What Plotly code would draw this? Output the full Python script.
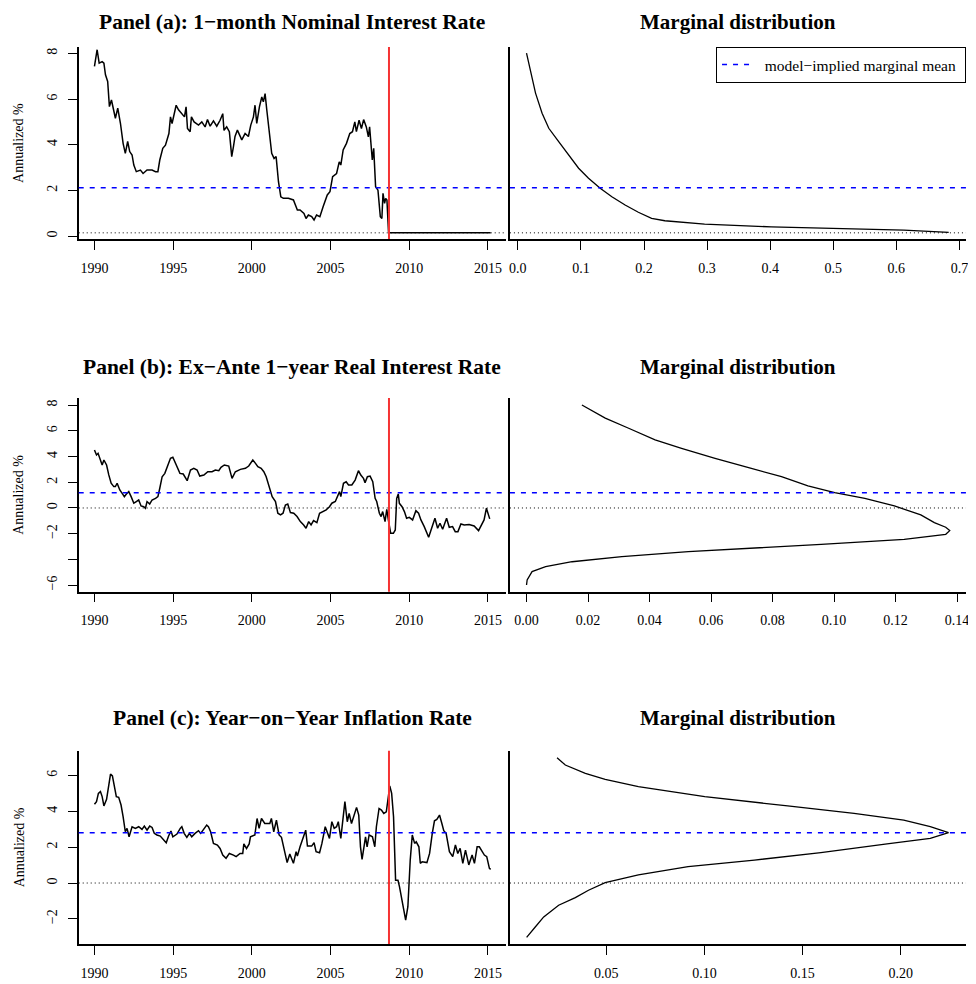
import plotly.graph_objects as go

# ---------------- data ----------------
# Panel (a): 1-month nominal interest rate
a_years = [1990.0, 1990.17, 1990.30, 1990.49, 1990.6, 1990.7, 1990.84, 1990.95, 1991.08, 1991.19,
           1991.33, 1991.48, 1991.65, 1991.82, 1991.96, 1992.11, 1992.24, 1992.39, 1992.5, 1992.66,
           1992.92, 1993.09, 1993.34, 1993.66, 1993.88, 1994.03, 1994.15, 1994.34, 1994.51, 1994.73,
           1994.83, 1994.93, 1995.04, 1995.19, 1995.34, 1995.55, 1995.72, 1995.82, 1995.91, 1996.08,
           1996.16, 1996.33, 1996.61, 1996.82, 1997.03, 1997.18, 1997.35, 1997.56, 1997.77, 1997.98,
           1998.15, 1998.23, 1998.4, 1998.57, 1998.72, 1998.83, 1998.93, 1999.08, 1999.21, 1999.36,
           1999.57, 1999.78, 1999.93, 2000.1, 2000.2, 2000.31, 2000.48, 2000.63, 2000.73, 2000.84,
           2000.95, 2001.12, 2001.26, 2001.41, 2001.54, 2001.69, 2001.84, 2002.0, 2002.32, 2002.64,
           2002.89, 2003.06, 2003.31, 2003.44, 2003.59, 2003.8, 2003.95, 2004.11, 2004.32, 2004.53,
           2004.79, 2004.96, 2005.13, 2005.38, 2005.55, 2005.65, 2005.8, 2006.01, 2006.22, 2006.39,
           2006.54, 2006.64, 2006.81, 2006.96, 2007.1, 2007.27, 2007.4, 2007.48, 2007.65, 2007.74,
           2007.86, 2008.01, 2008.16, 2008.26, 2008.33, 2008.43, 2008.5, 2008.58, 2008.68, 2008.75,
           2009.5, 2010.5, 2011.5, 2012.5, 2013.5, 2014.5, 2015.17]
a_vals = [7.43, 8.16, 7.57, 7.64, 7.57, 7.06, 6.77, 5.67, 5.96, 5.53,
          5.16, 5.60, 4.94, 4.06, 3.62, 4.14, 3.70, 3.55, 3.11, 2.82,
          2.89, 2.74, 2.89, 2.89, 2.82, 2.82, 3.33, 3.84, 3.98, 4.49,
          5.22, 4.93, 5.29, 5.73, 5.53, 5.37, 5.22, 5.66, 4.71, 4.57,
          5.22, 5.00, 4.86, 5.00, 4.78, 5.10, 4.81, 5.04, 4.81, 5.07,
          5.36, 4.63, 4.78, 4.57, 3.48, 3.92, 4.36, 4.64, 4.42, 4.21,
          4.49, 4.36, 4.86, 5.22, 5.73, 4.93, 5.66, 6.09, 5.88, 6.24,
          5.51, 4.49, 3.62, 3.40, 3.48, 2.38, 1.72, 1.65, 1.65, 1.58,
          1.14, 1.14, 0.99, 0.77, 0.92, 0.85, 0.70, 0.92, 0.85, 1.29,
          1.80, 1.94, 2.60, 2.74, 3.25, 3.11, 3.77, 4.06, 4.49, 4.57,
          5.00, 4.57, 5.07, 4.71, 5.10, 4.78, 4.34, 4.78, 3.33, 3.84,
          2.16, 2.01, 0.85, 0.77, 1.87, 1.43, 1.65, 1.58, 0.19, 0.14,
          0.14, 0.14, 0.14, 0.14, 0.14, 0.14, 0.14]
a_dens_x = [0.0137, 0.020, 0.028, 0.0384, 0.049, 0.0647, 0.0805, 0.0963, 0.112, 0.1305,
            0.149, 0.170, 0.191, 0.212, 0.233, 0.296, 0.4016, 0.507, 0.612, 0.683]
a_dens_y = [8.01, 7.21, 6.26, 5.38, 4.72, 4.14, 3.55, 2.97, 2.53, 2.09,
            1.72, 1.36, 1.04, 0.77, 0.67, 0.52, 0.40, 0.33, 0.26, 0.16]

# Panel (b): ex-ante 1-year real interest rate
b_years = [1990.0, 1990.13, 1990.23, 1990.38, 1990.49, 1990.6, 1990.77, 1990.91, 1991.06, 1991.23,
           1991.33, 1991.44, 1991.61, 1991.76, 1991.9, 1992.03, 1992.18, 1992.33, 1992.5, 1992.66,
           1992.81, 1992.96, 1993.13, 1993.24, 1993.34, 1993.51, 1993.66, 1993.88, 1994.03, 1994.15,
           1994.3, 1994.47, 1994.62, 1994.83, 1994.98, 1995.09, 1995.26, 1995.43, 1995.64, 1995.79,
           1995.89, 1996.1, 1996.31, 1996.52, 1996.69, 1996.95, 1997.2, 1997.47, 1997.68, 1997.9,
           1998.04, 1998.25, 1998.53, 1998.74, 1998.95, 1999.27, 1999.59, 1999.8, 1999.95, 2000.06,
           2000.23, 2000.38, 2000.59, 2000.76, 2000.91, 2001.08, 2001.29, 2001.5, 2001.65, 2001.82,
           2001.98, 2002.13, 2002.28, 2002.45, 2002.66, 2002.87, 2003.08, 2003.29, 2003.44, 2003.61,
           2003.76, 2003.92, 2004.13, 2004.3, 2004.51, 2004.72, 2004.93, 2005.08, 2005.3, 2005.44,
           2005.57, 2005.65, 2005.82, 2005.99, 2006.14, 2006.35, 2006.56, 2006.77, 2006.92, 2007.09,
           2007.19, 2007.34, 2007.51, 2007.68, 2007.83, 2007.93, 2008.1, 2008.21, 2008.31, 2008.46,
           2008.57, 2008.67, 2008.82, 2008.99, 2009.11, 2009.2, 2009.3, 2009.37, 2009.54, 2009.69,
           2009.83, 2010.0, 2010.21, 2010.42, 2010.59, 2010.74, 2010.95, 2011.23, 2011.44, 2011.63,
           2011.8, 2011.95, 2012.12, 2012.37, 2012.54, 2012.75, 2012.92, 2013.09, 2013.28, 2013.49,
           2013.8, 2014.12, 2014.4, 2014.61, 2014.75, 2014.9, 2015.03, 2015.11]
b_vals = [4.51, 4.12, 4.25, 3.73, 3.34, 3.73, 3.34, 2.57, 1.92, 1.66,
          1.66, 1.92, 1.40, 1.14, 0.88, 1.09, 1.27, 0.88, 0.37, 0.50,
          0.62, 0.16, 0.10, -0.02, 0.50, 0.31, 0.62, 0.75, 0.88, 1.53,
          2.43, 2.69, 3.21, 3.86, 3.94, 3.60, 3.08, 2.69, 2.64, 2.30,
          2.12, 2.95, 3.08, 2.95, 2.48, 2.56, 2.82, 2.82, 2.95, 2.90,
          3.16, 3.34, 3.26, 2.30, 2.82, 3.00, 3.08, 3.26, 3.60, 3.73,
          3.47, 3.21, 3.08, 2.82, 2.43, 1.66, 0.88, 0.50, -0.41, -0.54,
          -0.41, 0.23, 0.31, -0.36, -0.41, -0.67, -1.06, -1.32, -1.58, -1.06,
          -1.32, -0.98, -1.14, -0.41, -0.28, -0.15, 0.10, 0.37, 0.50, 0.88,
          1.27, 0.88, 1.92, 2.04, 1.79, 1.79, 2.17, 2.90, 2.56, 2.30,
          1.97, 2.43, 2.48, 2.04, 0.75, 0.50, -0.41, -0.67, -0.28, -1.06,
          -0.10, -0.93, -1.97, -1.97, -1.71, 0.75, 1.09, 0.36, 0.10, -0.28,
          -0.80, -0.73, -0.93, -0.21, -0.41, -0.93, -1.45, -2.28, -1.50, -0.80,
          -1.58, -1.19, -1.66, -0.80, -1.50, -1.45, -1.84, -1.84, -1.24, -1.32,
          -1.29, -1.40, -1.76, -1.32, -0.93, -0.02, -0.54, -0.85]
b_dens_x = [0.0180, 0.0256, 0.0332, 0.0418, 0.0504, 0.0613, 0.0731, 0.0829, 0.0915, 0.1002,
            0.110, 0.1196, 0.1282, 0.1326, 0.1363, 0.1376, 0.1363, 0.1228, 0.0958, 0.0742,
            0.0526, 0.031, 0.0148, 0.0062, 0.0018, 0.0002, 0.0]
b_dens_y = [8.01, 6.98, 6.20, 5.29, 4.64, 3.86, 3.08, 2.43, 1.71, 1.19,
            0.75, 0.16, -0.54, -1.14, -1.50, -1.76, -2.05, -2.44, -2.83, -3.09,
            -3.40, -3.79, -4.18, -4.56, -4.95, -5.60, -5.99]

# Panel (c): year-on-year inflation rate
c_years = [1990.0, 1990.13, 1990.25, 1990.38, 1990.49, 1990.6, 1990.77, 1990.91, 1991.02, 1991.14,
           1991.27, 1991.39, 1991.54, 1991.69, 1991.82, 1991.96, 1992.07, 1992.2, 1992.39, 1992.6,
           1992.81, 1993.02, 1993.17, 1993.34, 1993.51, 1993.66, 1993.8, 1993.97, 1994.18, 1994.39,
           1994.56, 1994.71, 1994.86, 1994.98, 1995.24, 1995.45, 1995.55, 1995.7, 1995.87, 1996.03,
           1996.18, 1996.39, 1996.61, 1996.75, 1996.92, 1997.13, 1997.24, 1997.38, 1997.56, 1997.81,
           1997.98, 1998.15, 1998.36, 1998.57, 1998.83, 1999.0, 1999.25, 1999.42, 1999.49, 1999.66,
           1999.83, 1999.91, 2000.19, 2000.33, 2000.46, 2000.61, 2000.82, 2001.14, 2001.24, 2001.39,
           2001.56, 2001.73, 2001.88, 2002.03, 2002.24, 2002.41, 2002.64, 2002.81, 2002.89, 2003.06,
           2003.27, 2003.42, 2003.53, 2003.8, 2003.95, 2004.08, 2004.3, 2004.45, 2004.66, 2004.79,
           2004.93, 2005.08, 2005.23, 2005.38, 2005.49, 2005.65, 2005.76, 2005.91, 2006.06, 2006.18,
           2006.33, 2006.48, 2006.65, 2006.79, 2006.9, 2007.0, 2007.13, 2007.22, 2007.32, 2007.45,
           2007.66, 2007.81, 2007.91, 2008.08, 2008.23, 2008.38, 2008.54, 2008.65, 2008.76, 2008.88,
           2009.0, 2009.13, 2009.28, 2009.38, 2009.6, 2009.77, 2009.91, 2010.06, 2010.19, 2010.34,
           2010.44, 2010.61, 2010.7, 2010.82, 2011.12, 2011.29, 2011.46, 2011.6, 2011.75, 2011.92,
           2012.07, 2012.19, 2012.34, 2012.55, 2012.76, 2012.93, 2013.08, 2013.23, 2013.4, 2013.57,
           2013.78, 2013.99, 2014.14, 2014.31, 2014.45, 2014.62, 2014.77, 2014.92, 2015.09, 2015.17]
c_vals = [4.39, 4.54, 5.00, 5.10, 4.82, 4.30, 4.67, 5.56, 6.08, 5.97,
          5.47, 4.82, 4.78, 4.35, 3.70, 2.86, 3.05, 2.58, 3.14, 3.05,
          3.14, 2.99, 3.18, 2.95, 3.18, 3.10, 2.77, 2.68, 2.62, 2.43,
          2.25, 2.62, 2.90, 2.58, 2.73, 3.05, 3.14, 2.77, 2.55, 2.77,
          2.58, 2.77, 2.92, 2.77, 2.95, 3.23, 3.14, 2.86, 2.21, 2.12,
          1.93, 1.56, 1.38, 1.65, 1.56, 1.47, 1.65, 1.65, 2.18, 1.93,
          2.18, 2.58, 2.68, 3.60, 3.05, 3.60, 3.32, 3.32, 3.60, 2.86,
          3.51, 2.68, 2.55, 1.93, 1.14, 1.62, 1.10, 1.75, 1.50, 2.02,
          2.58, 2.95, 2.06, 2.06, 2.25, 1.75, 1.69, 2.21, 3.14, 2.86,
          2.49, 3.42, 3.05, 3.14, 3.42, 2.49, 3.23, 4.54, 3.42, 3.88,
          3.32, 3.79, 4.22, 3.79, 2.02, 1.32, 2.02, 2.58, 2.02, 2.68,
          2.58, 2.02, 3.14, 4.16, 4.07, 3.88, 3.97, 4.63, 5.41, 5.00,
          3.70, 0.16, 0.16, -0.21, -1.32, -2.07, -1.32, 1.28, 2.68, 2.21,
          2.30, 2.02, 1.10, 1.19, 1.14, 1.65, 2.77, 3.47, 3.55, 3.79,
          3.32, 2.92, 2.77, 1.75, 1.47, 2.12, 1.65, 1.93, 1.10, 1.84,
          1.01, 1.56, 1.10, 2.02, 2.02, 1.75, 1.56, 1.47, 0.82, 0.76]
c_dens_x = [0.025, 0.0292, 0.0394, 0.0495, 0.0664, 0.1002, 0.1424, 0.1762, 0.2015, 0.215,
            0.2243, 0.215, 0.193, 0.1593, 0.1255, 0.0917, 0.0664, 0.0495, 0.041, 0.0343,
            0.0258, 0.0182, 0.014, 0.0095]
c_dens_y = [6.99, 6.58, 6.12, 5.78, 5.38, 4.82, 4.30, 3.89, 3.51, 3.14,
            2.81, 2.49, 2.18, 1.69, 1.28, 0.91, 0.45, 0.02, -0.40, -0.81,
            -1.24, -1.89, -2.44, -3.03]

panel_titles = ["Panel (a): 1\u2212month Nominal Interest Rate",
                "Panel (b): Ex\u2212Ante 1\u2212year Real Interest Rate",
                "Panel (c): Year\u2212on\u2212Year Inflation Rate"]
right_title = "Marginal distribution"
y_label = "Annualized %"
legend_label = "model\u2212implied marginal mean"

marginal_means = [2.12, 1.19, 2.81]
lower_lines = [0.14, 0.0, 0.0]
crisis_date = 2008.71

year_ticks = [1990, 1995, 2000, 2005, 2010, 2015]
y_ticks = [[0, 2, 4, 6, 8], [-6, -4, -2, 0, 2, 4, 6, 8], [-2, 0, 2, 4, 6]]
y_ticktext = [["0", "2", "4", "6", "8"],
              ["\u22126", "", "\u22122", "0", "2", "4", "6", "8"],
              ["\u22122", "0", "2", "4", "6"]]
dens_ticks = [[0.0, 0.1, 0.2, 0.3, 0.4, 0.5, 0.6, 0.7],
              [0.0, 0.02, 0.04, 0.06, 0.08, 0.10, 0.12, 0.14],
              [0.05, 0.10, 0.15, 0.20]]
dens_ticktext = [["0.0", "0.1", "0.2", "0.3", "0.4", "0.5", "0.6", "0.7"],
                 ["0.00", "0.02", "0.04", "0.06", "0.08", "0.10", "0.12", "0.14"],
                 ["0.05", "0.10", "0.15", "0.20"]]

# ---------------- layout geometry ----------------
# the page body adds an 8px margin, so the figure is shrunk and all
# target pixel positions are shifted by that offset
OX, OY = 8, 8
W, H = 976 - OX, 984 - OY
FONT = "Liberation Serif"
left_px = (78, 507)
right_px = (511, 969)
rows_px = [(47, 239), (398, 591.7), (750.7, 944)]
x_ranges = [1989.0, 2016.14]
y_ranges = [[-0.13, 8.28], [-6.51, 8.55], [-3.40, 7.38]]
dens_ranges = [[-0.0126, 0.7105], [-0.0054, 0.1429], [0.001, 0.2332]]
title_y_px = [22, 366.7, 718.3]


def fx(p):
    return (p - OX) / W


def fy(p):
    return 1 - (p - OY) / H


series = [(a_years, a_vals, a_dens_x, a_dens_y),
          (b_years, b_vals, b_dens_x, b_dens_y),
          (c_years, c_vals, c_dens_x, c_dens_y)]

fig = go.Figure()
layout = {}
shapes = []
annotations = []

axis_common = dict(showline=True, linecolor="black", linewidth=1.5, showgrid=False,
                   zeroline=False, ticks="outside", ticklen=9, tickwidth=1.2,
                   tickcolor="black", tickfont=dict(family=FONT, size=14, color="black"))

for i, (yrs, vals, dx, dy) in enumerate(series):
    nl = 2 * i + 1
    nr = 2 * i + 2
    sl = "" if nl == 1 else str(nl)
    sr = str(nr)
    top, bot = rows_px[i]
    ydom = [fy(bot), fy(top)]

    fig.add_trace(go.Scatter(x=yrs, y=vals, mode="lines",
                             line=dict(color="black", width=1.5),
                             xaxis="x" + sl, yaxis="y" + sl, showlegend=False,
                             hoverinfo="skip"))
    fig.add_trace(go.Scatter(x=dx, y=dy, mode="lines",
                             line=dict(color="black", width=1.3),
                             xaxis="x" + sr, yaxis="y" + sr, showlegend=False,
                             hoverinfo="skip"))

    layout["xaxis" + sl] = dict(axis_common, domain=[fx(left_px[0]), fx(left_px[1])],
                                anchor="y" + sl, range=x_ranges, tickvals=year_ticks,
                                ticktext=[str(t) for t in year_ticks],
                                ticklabelstandoff=6)
    layout["yaxis" + sl] = dict(axis_common, domain=ydom, anchor="x" + sl,
                                range=y_ranges[i], tickvals=y_ticks[i],
                                ticktext=y_ticktext[i], tickangle=-90,
                                ticklabelstandoff=5)
    layout["xaxis" + sr] = dict(axis_common, domain=[fx(right_px[0]), fx(right_px[1])],
                                anchor="y" + sr, range=dens_ranges[i],
                                tickvals=dens_ticks[i], ticktext=dens_ticktext[i],
                                ticklabelstandoff=6)
    layout["yaxis" + sr] = dict(showline=True, linecolor="black", linewidth=1.5,
                                showgrid=False, zeroline=False, showticklabels=False,
                                ticks="", domain=ydom, anchor="x" + sr,
                                range=y_ranges[i])

    # reference lines
    for s in (sl, sr):
        shapes.append(dict(type="line", xref="x" + s + " domain", yref="y" + s,
                           x0=0, x1=1, y0=lower_lines[i], y1=lower_lines[i],
                           line=dict(color="black", width=1, dash="1px,3px")))
        shapes.append(dict(type="line", xref="x" + s + " domain", yref="y" + s,
                           x0=0, x1=1, y0=marginal_means[i], y1=marginal_means[i],
                           line=dict(color="blue", width=1.5, dash="5px,6px")))
    shapes.append(dict(type="line", xref="x" + sl, yref="y" + sl + " domain",
                       x0=crisis_date, x1=crisis_date, y0=0, y1=1,
                       line=dict(color="rgb(245,50,50)", width=2)))

    # titles
    annotations.append(dict(text="<b>" + panel_titles[i] + "</b>", xref="paper", yref="paper",
                            x=fx((left_px[0] + left_px[1]) / 2), y=fy(title_y_px[i]),
                            xanchor="center", yanchor="middle", showarrow=False,
                            font=dict(family=FONT, size=21.5, color="black")))
    annotations.append(dict(text="<b>" + right_title + "</b>", xref="paper", yref="paper",
                            x=fx((right_px[0] + right_px[1]) / 2), y=fy(title_y_px[i]),
                            xanchor="center", yanchor="middle", showarrow=False,
                            font=dict(family=FONT, size=21, color="black")))
    annotations.append(dict(text=y_label, xref="paper", yref="paper",
                            x=fx(18), y=fy((top + bot) / 2), textangle=-90,
                            xanchor="center", yanchor="middle", showarrow=False,
                            font=dict(family=FONT, size=14, color="black")))

# legend entry for the marginal mean line
fig.add_trace(go.Scatter(x=[None], y=[None], mode="lines",
                         name="\u00a0\u00a0" + legend_label + "\u00a0",
                         line=dict(color="blue", width=1.5, dash="5px,6px"),
                         xaxis="x2", yaxis="y2", showlegend=True))

fig.update_layout(**layout)
fig.update_layout(width=W, height=H, margin=dict(l=0, r=0, t=0, b=0),
                  paper_bgcolor="white", plot_bgcolor="white",
                  shapes=shapes, annotations=annotations,
                  legend=dict(x=fx(969), xanchor="right", y=fy(47), yanchor="top",
                              bordercolor="black", borderwidth=1, bgcolor="white",
                              font=dict(family=FONT, size=15.5, color="black"),
                              itemwidth=30))

fig.write_html("out.html")
